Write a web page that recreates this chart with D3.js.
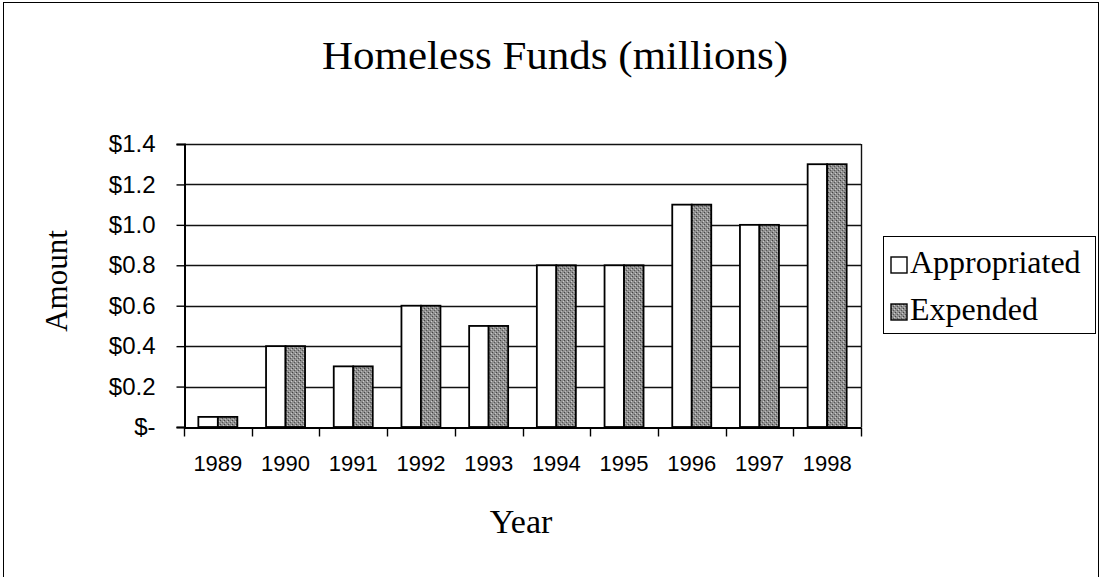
<!DOCTYPE html>
<html>
<head>
<meta charset="utf-8">
<script src="https://cdn.jsdelivr.net/npm/d3@7"></script>
<style>
  body { margin: 0; background: #fff; }
  svg { display: block; }
</style>
</head>
<body>
<div class="chart"></div>
<script>
var years = ["1989", "1990", "1991", "1992", "1993", "1994", "1995", "1996", "1997", "1998"];
var appropriated = [0.05, 0.4, 0.3, 0.6, 0.5, 0.8, 0.8, 1.1, 1.0, 1.3];
var expended = [0.05, 0.4, 0.3, 0.6, 0.5, 0.8, 0.8, 1.1, 1.0, 1.3];
var yTicks = [0, 0.2, 0.4, 0.6, 0.8, 1.0, 1.2, 1.4];
var seriesNames = ["Appropriated", "Expended"];

var w = 1101, h = 577;
var serif = "'Liberation Serif', 'DejaVu Serif', serif";
var sans = "'Liberation Sans', Arial, sans-serif";

var svg = d3.select('.chart').append('svg')
	.attr('width', w)
	.attr('height', h);

// grainy fill for the expended bars
var defs = svg.append('defs');
var pat = defs.append('pattern')
	.attr('id', 'grain')
	.attr('width', 4).attr('height', 4)
	.attr('patternUnits', 'userSpaceOnUse');
pat.append('rect').attr('width', 4).attr('height', 4).attr('fill', '#8f8f8f');
pat.append('rect').attr('x', 0).attr('y', 0).attr('width', 1).attr('height', 1).attr('fill', '#444');
pat.append('rect').attr('x', 2).attr('y', 2).attr('width', 1).attr('height', 1).attr('fill', '#555');
pat.append('rect').attr('x', 3).attr('y', 1).attr('width', 1).attr('height', 1).attr('fill', '#ccc');
pat.append('rect').attr('x', 1).attr('y', 3).attr('width', 1).attr('height', 1).attr('fill', '#bbb');

// outer frame
svg.append('rect')
	.attr('x', 3.5).attr('y', 2.5)
	.attr('width', w - 6).attr('height', h - 2)
	.attr('fill', 'none').attr('stroke', '#000').attr('stroke-width', 1);

var m = { left: 184, right: 861, top: 144, bottom: 427 };

var x = d3.scaleBand()
	.domain(years)
	.range([m.left, m.right])
	.paddingInner(0).paddingOuter(0);

var y = d3.scaleLinear()
	.domain([0, 1.4])
	.range([m.bottom, m.top]);

var barW = 19.5;

// gridlines
svg.append('g').selectAll('line').data(yTicks.slice(1))
	.enter().append('line')
	.attr('x1', m.left).attr('x2', m.right)
	.attr('y1', function(d){ return Math.round(y(d)) + 0.5; })
	.attr('y2', function(d){ return Math.round(y(d)) + 0.5; })
	.attr('stroke', '#111').attr('stroke-width', 1.4);

// plot frame right side
svg.append('line')
	.attr('x1', m.right + 0.5).attr('x2', m.right + 0.5)
	.attr('y1', m.top).attr('y2', m.bottom)
	.attr('stroke', '#111').attr('stroke-width', 1.4);

// bars
var groups = svg.append('g').selectAll('g').data(years)
	.enter().append('g');

groups.append('rect')
	.attr('x', function(d){ return x(d) + x.bandwidth() / 2 - barW; })
	.attr('y', function(d, i){ return y(appropriated[i]); })
	.attr('width', barW)
	.attr('height', function(d, i){ return y(0) - y(appropriated[i]); })
	.attr('fill', '#fff').attr('stroke', '#000').attr('stroke-width', 1.8);

groups.append('rect')
	.attr('x', function(d){ return x(d) + x.bandwidth() / 2; })
	.attr('y', function(d, i){ return y(expended[i]); })
	.attr('width', barW)
	.attr('height', function(d, i){ return y(0) - y(expended[i]); })
	.attr('fill', 'url(#grain)').attr('stroke', '#000').attr('stroke-width', 1.8);

// y axis
var yAxis = svg.append('g')
	.attr('transform', 'translate(' + (m.left + 0.5) + ',0)')
	.call(d3.axisLeft(y).tickValues(yTicks).tickSize(8).tickPadding(21)
		.tickFormat(function(d){ return d === 0 ? '$-' : '$' + d.toFixed(1); }));
yAxis.select('.domain').attr('stroke', '#000').attr('stroke-width', 2);
yAxis.selectAll('.tick line').attr('stroke', '#000').attr('stroke-width', 1.4);
yAxis.selectAll('text')
	.attr('font-family', sans).attr('font-size', 24).attr('fill', '#000');

// x axis
var xAxis = svg.append('g')
	.attr('transform', 'translate(0,' + (m.bottom + 0.5) + ')')
	.call(d3.axisBottom(x).tickSize(0).tickPadding(28));
xAxis.select('.domain').attr('stroke', '#000').attr('stroke-width', 2);
xAxis.selectAll('text')
	.attr('font-family', sans).attr('font-size', 22).attr('fill', '#000');

// category boundary ticks
xAxis.append('g').selectAll('line').data(years.concat(['end']))
	.enter().append('line')
	.attr('x1', function(d, i){ return Math.round(m.left + i * x.bandwidth()) + 0.5; })
	.attr('x2', function(d, i){ return Math.round(m.left + i * x.bandwidth()) + 0.5; })
	.attr('y1', 0).attr('y2', 9)
	.attr('stroke', '#000').attr('stroke-width', 1.4);

// title and axis titles
svg.append('text')
	.attr('x', 555).attr('y', 69)
	.attr('text-anchor', 'middle')
	.attr('font-family', serif).attr('font-size', 39)
	.attr('textLength', 466).attr('lengthAdjust', 'spacingAndGlyphs')
	.text('Homeless Funds (millions)');

svg.append('text')
	.attr('transform', 'translate(67,281) rotate(-90)')
	.attr('text-anchor', 'middle')
	.attr('font-family', serif).attr('font-size', 31)
	.text('Amount');

svg.append('text')
	.attr('x', 521).attr('y', 533)
	.attr('text-anchor', 'middle')
	.attr('font-family', serif).attr('font-size', 34)
	.text('Year');

// legend
var legend = svg.append('g');
legend.append('rect')
	.attr('x', 883.5).attr('y', 236.5)
	.attr('width', 212).attr('height', 97)
	.attr('fill', '#fff').attr('stroke', '#000');

var items = legend.selectAll('.item').data(seriesNames)
	.enter().append('g')
	.attr('transform', function(d, i){ return 'translate(891,' + (273 + i * 47) + ')'; });

items.append('rect')
	.attr('y', -16)
	.attr('width', 16).attr('height', 16)
	.attr('fill', function(d, i){ return i === 0 ? '#fff' : 'url(#grain)'; })
	.attr('stroke', '#000').attr('stroke-width', 1.4);

items.append('text')
	.attr('x', 19).attr('y', 0)
	.attr('font-family', serif).attr('font-size', 32)
	.text(function(d){ return d; });
</script>
</body>
</html>
